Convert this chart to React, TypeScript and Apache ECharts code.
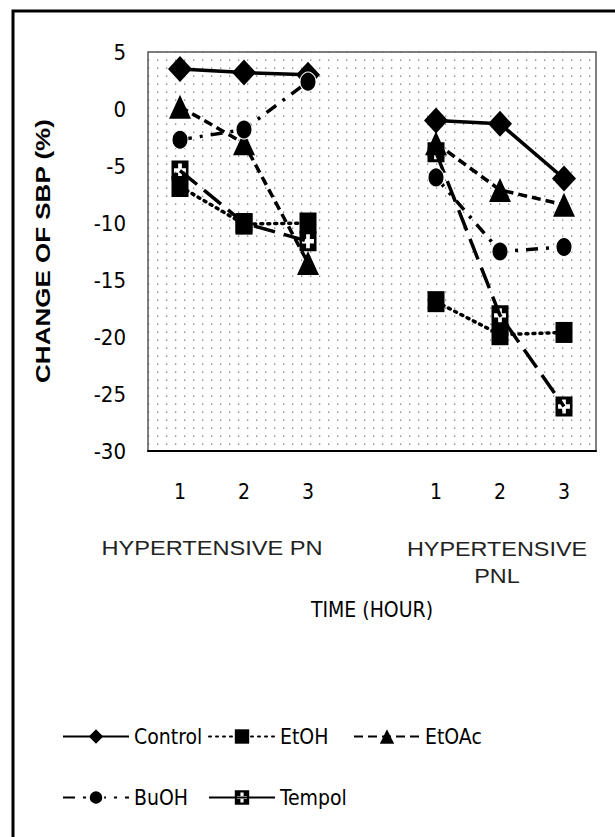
import React, { useEffect, useRef } from "react";
import * as echarts from "echarts";

// ---- data ----
const categories = ["1", "2", "3", "", "1", "2", "3"];
const seriesNames = ["Control", "EtOH", "EtOAc", "BuOH", "Tempol"];
const control = [3.5, 3.2, 3.0, null, -1.0, -1.3, -6.1];
const etoh = [-6.8, -10.1, -10.0, null, -16.9, -19.8, -19.6];
const etoac = [0.2, -3.0, -13.5, null, -3.0, -7.1, -8.4];
const buoh = [-2.7, -1.8, 2.4, null, -6.0, -12.5, -12.1];
const tempol = [-5.4, -10.0, -11.6, null, -3.8, -18.1, -26.1];
const yMin = -30;
const yMax = 5;
const yStep = 5;
const groupLabels = ["HYPERTENSIVE PN", "HYPERTENSIVE\nPNL"];
const xTitle = "TIME (HOUR)";
const yTitle = "CHANGE OF SBP (%)";

const FONT = "'Liberation Sans Narrow', 'DejaVu Sans Condensed', 'Roboto Condensed', 'Liberation Sans', sans-serif";

const tempolSymbol =
  "path://M0 0 H10 V10 H0 Z M3.9 1.5 L3.9 3.9 L1.5 3.9 L1.5 6.1 L3.9 6.1 L3.9 8.5 L6.1 8.5 L6.1 6.1 L8.5 6.1 L8.5 3.9 L6.1 3.9 L6.1 1.5 Z";

const dotSvg =
  '<svg xmlns="http://www.w3.org/2000/svg" width="9" height="8"><rect x="4" y="3.5" width="1.3" height="1.3" fill="#777"/></svg>';
const dotUrl = "data:image/svg+xml;utf8," + encodeURIComponent(dotSvg);

export default function App() {
  const ref = useRef<HTMLDivElement>(null);
  useEffect(() => {
    if (!ref.current) return;
    const chart = echarts.init(ref.current, null, { renderer: "svg" });
    const black = "#000";
    const seriesData = [control, etoh, etoac, buoh, tempol];
    const symbols = ["diamond", "rect", "triangle", "circle", tempolSymbol];
    const sizes: any[] = [[24, 26], [17, 21], [22, 24], [16, 19], [17, 20]];
    const dashes: any[] = ["solid", [2, 5], [9, 5], [12, 8, 3, 8], [22, 9]];
    const legendPos = [
      [62, 726],
      [208, 726],
      [353, 726],
      [62, 787],
      [208, 787],
    ];
    const option: any = {
      animation: false,
      backgroundColor: "#fff",
      grid: {
        left: 148,
        top: 52,
        right: 19,
        bottom: 386,
        show: true,
        backgroundColor: { image: dotUrl, repeat: "repeat", imageWidth: 9, imageHeight: 8 },
        borderColor: "#555",
        borderWidth: 1.5,
      },
      xAxis: {
        type: "category",
        data: categories,
        boundaryGap: true,
        axisLine: { onZero: false, lineStyle: { color: black, width: 2 } },
        axisTick: { show: false },
        axisLabel: { fontSize: 21, margin: 30, color: black, fontFamily: FONT },
        splitLine: { show: false },
      },
      yAxis: {
        type: "value",
        min: yMin,
        max: yMax,
        interval: yStep,
        axisLine: { show: false },
        axisTick: { show: false },
        splitLine: { show: false },
        axisLabel: { fontSize: 22, margin: 22, color: black, fontFamily: FONT },
      },
      legend: seriesNames.map((n, i) => ({
        data: [i === 4 ? { name: n, lineStyle: { type: "solid" } } : n],
        left: legendPos[i][0],
        top: legendPos[i][1],
        itemWidth: 66,
        itemHeight: 18,
        padding: 0,
        textStyle: { fontSize: 21, fontFamily: FONT, color: black },
      })),
      series: seriesNames.map((n, i) => ({
        name: n,
        type: "line",
        data: seriesData[i],
        connectNulls: false,
        symbol: symbols[i],
        symbolSize: sizes[i],
        lineStyle: { color: black, width: 3.5, type: dashes[i], cap: i === 1 ? "round" : "butt" },
        itemStyle: i === 3 ? { color: black, borderColor: "#fff", borderWidth: 1 } : { color: black },
        emphasis: { disabled: true },
      })),
      graphic: [
        {
          type: "rect",
          shape: { x: 13, y: 11, width: 700, height: 900 },
          style: { fill: "none", stroke: black, lineWidth: 3 },
          silent: true,
          z: -10,
        },
        {
          type: "text",
          x: 43,
          y: 251,
          rotation: Math.PI / 2,
          scaleX: 1.3,
          style: {
            text: yTitle,
            fontSize: 20,
            fontWeight: "bold",
            fontFamily: "'Liberation Sans', sans-serif",
            fill: black,
            align: "center",
            verticalAlign: "middle",
          },
        },
        {
          type: "text",
          x: 212,
          y: 548,
          scaleX: 1.18,
          style: {
            text: groupLabels[0],
            fontSize: 20,
            fontFamily: "'Liberation Sans', sans-serif",
            fill: "#222",
            align: "center",
            verticalAlign: "middle",
          },
        },
        {
          type: "text",
          x: 497,
          y: 536,
          scaleX: 1.17,
          style: {
            text: groupLabels[1],
            fontSize: 20,
            lineHeight: 27,
            fontFamily: "'Liberation Sans', sans-serif",
            fill: "#222",
            align: "center",
            verticalAlign: "top",
          },
        },
        {
          type: "text",
          x: 372,
          y: 610,
          style: {
            text: xTitle,
            fontSize: 21,
            fontFamily: FONT,
            fill: black,
            align: "center",
            verticalAlign: "middle",
          },
        },
      ],
    };
    chart.setOption(option);
    return () => chart.dispose();
  }, []);
  return (
    <div
      ref={ref}
      style={{ position: "absolute", left: 0, top: 0, width: 615, height: 837 }}
    />
  );
}
